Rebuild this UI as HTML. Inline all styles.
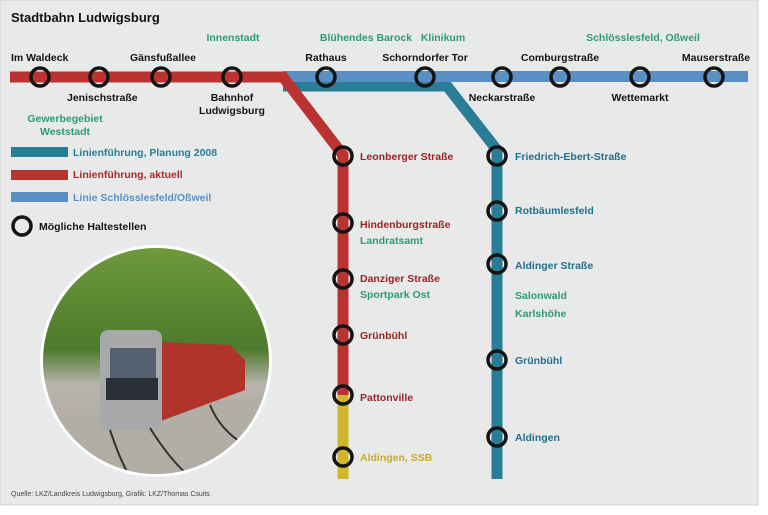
<!DOCTYPE html><html><head><meta charset="utf-8"><style>
body{margin:0;width:768px;height:510px;background:#fff;overflow:hidden}
svg text{font-family:"Liberation Sans",sans-serif;font-weight:bold;font-size:10.5px}
</style></head><body>
<svg width="768" height="510" xmlns="http://www.w3.org/2000/svg">
<defs><clipPath id="c"><circle cx="156" cy="361" r="113"/></clipPath>
<linearGradient id="g" x1="0" y1="0" x2="0" y2="1"><stop offset="0" stop-color="#6f9a3c"/><stop offset=".45" stop-color="#4d7a2c"/><stop offset=".6" stop-color="#b8b4ab"/><stop offset="1" stop-color="#a9a59c"/></linearGradient></defs>
<rect x="0" y="0" width="758" height="505" fill="#e8e9e9" stroke="#cfcfcf"/>
<text x="11" y="22" style="font-size:13px" fill="#111">Stadtbahn Ludwigsburg</text>
<polyline points="283,86 447,86 497,150 497,479" fill="none" stroke="#2a7d97" stroke-width="11"/>
<rect x="283" y="71" width="465" height="11" fill="#5a8fc5"/>
<polyline points="10,77 283,77 343,155 343,395" fill="none" stroke="#bb3331" stroke-width="11"/>
<rect x="337.5" y="395" width="11" height="84" fill="#d1b62c"/>
<g fill="none" stroke="#141414" stroke-width="3.5">
<circle cx="40" cy="77" r="9"/><circle cx="99" cy="77" r="9"/><circle cx="161" cy="77" r="9"/><circle cx="232" cy="77" r="9"/>
<circle cx="326" cy="77" r="9"/><circle cx="425" cy="77" r="9"/><circle cx="502" cy="77" r="9"/><circle cx="560" cy="77" r="9"/><circle cx="640" cy="77" r="9"/><circle cx="714" cy="77" r="9"/>
<circle cx="343" cy="156" r="9"/><circle cx="343" cy="223" r="9"/><circle cx="343" cy="279" r="9"/><circle cx="343" cy="335" r="9"/><circle cx="343" cy="395" r="9"/><circle cx="343" cy="457" r="9"/>
<circle cx="497" cy="156" r="9"/><circle cx="497" cy="211" r="9"/><circle cx="497" cy="264" r="9"/><circle cx="497" cy="360" r="9"/><circle cx="497" cy="437" r="9"/>
<circle cx="22" cy="226" r="9"/>
</g>
<g fill="#141414">
<text x="11" y="61">Im Waldeck</text><text x="67" y="101">Jenischstraße</text><text x="130" y="61">Gänsfußallee</text>
<text x="232" y="101" text-anchor="middle">Bahnhof</text><text x="232" y="114" text-anchor="middle">Ludwigsburg</text>
<text x="326" y="61" text-anchor="middle">Rathaus</text><text x="425" y="61" text-anchor="middle">Schorndorfer Tor</text>
<text x="502" y="101" text-anchor="middle">Neckarstraße</text><text x="560" y="61" text-anchor="middle">Comburgstraße</text>
<text x="640" y="101" text-anchor="middle">Wettemarkt</text><text x="716" y="61" text-anchor="middle">Mauserstraße</text>
<text x="39" y="230">Mögliche Haltestellen</text>
</g>
<g fill="#2e9b72">
<text x="233" y="41" text-anchor="middle">Innenstadt</text><text x="366" y="41" text-anchor="middle">Blühendes Barock</text>
<text x="443" y="41" text-anchor="middle">Klinikum</text><text x="643" y="41" text-anchor="middle">Schlösslesfeld, Oßweil</text>
<text x="65" y="122" text-anchor="middle">Gewerbegebiet</text><text x="65" y="135" text-anchor="middle">Weststadt</text>
<text x="360" y="244">Landratsamt</text><text x="360" y="298">Sportpark Ost</text>
<text x="515" y="299">Salonwald</text><text x="515" y="317">Karlshöhe</text>
</g>
<rect x="11" y="147" width="57" height="10" fill="#2a7d97"/><text x="73" y="156" fill="#2a7d97">Linienführung, Planung 2008</text>
<rect x="11" y="170" width="57" height="10" fill="#bb3331"/><text x="73" y="178" fill="#a72a2a">Linienführung, aktuell</text>
<rect x="11" y="192" width="57" height="10" fill="#5a8fc5"/><text x="73" y="201" fill="#5a8fc5">Linie Schlösslesfeld/Oßweil</text>
<g fill="#9b2424">
<text x="360" y="160">Leonberger Straße</text><text x="360" y="228">Hindenburgstraße</text><text x="360" y="282">Danziger Straße</text>
<text x="360" y="339">Grünbühl</text><text x="360" y="401">Pattonville</text>
</g>
<text x="360" y="461" fill="#c9ad22">Aldingen, SSB</text>
<g fill="#236f8a">
<text x="515" y="160">Friedrich-Ebert-Straße</text><text x="515" y="214">Rotbäumlesfeld</text><text x="515" y="269">Aldinger Straße</text>
<text x="515" y="364">Grünbühl</text><text x="515" y="441">Aldingen</text>
</g>
<circle cx="156" cy="361" r="116" fill="#fff"/>
<g clip-path="url(#c)">
<rect x="40" y="245" width="232" height="232" fill="url(#g)"/>
<path d="M40 420 L272 395 L272 477 L40 477Z" fill="#b2aea6"/>
<path d="M110 340 L230 345 L245 360 L245 390 L150 425 L110 430 Z" fill="#b0332c"/>
<rect x="100" y="330" width="62" height="100" rx="8" fill="#a8a9ab"/>
<rect x="110" y="348" width="46" height="30" fill="#556170"/>
<rect x="106" y="378" width="52" height="22" fill="#2b3038"/>
<path d="M110 430 Q120 460 130 477 M150 428 Q170 460 190 477 M210 405 Q220 430 245 445" stroke="#333" stroke-width="2" fill="none"/>
</g>
<text x="11" y="496" style="font-size:7px;font-weight:normal" fill="#444">Quelle: LKZ/Landkreis Ludwigsburg, Grafik: LKZ/Thomas Csuits</text>
</svg></body></html>
